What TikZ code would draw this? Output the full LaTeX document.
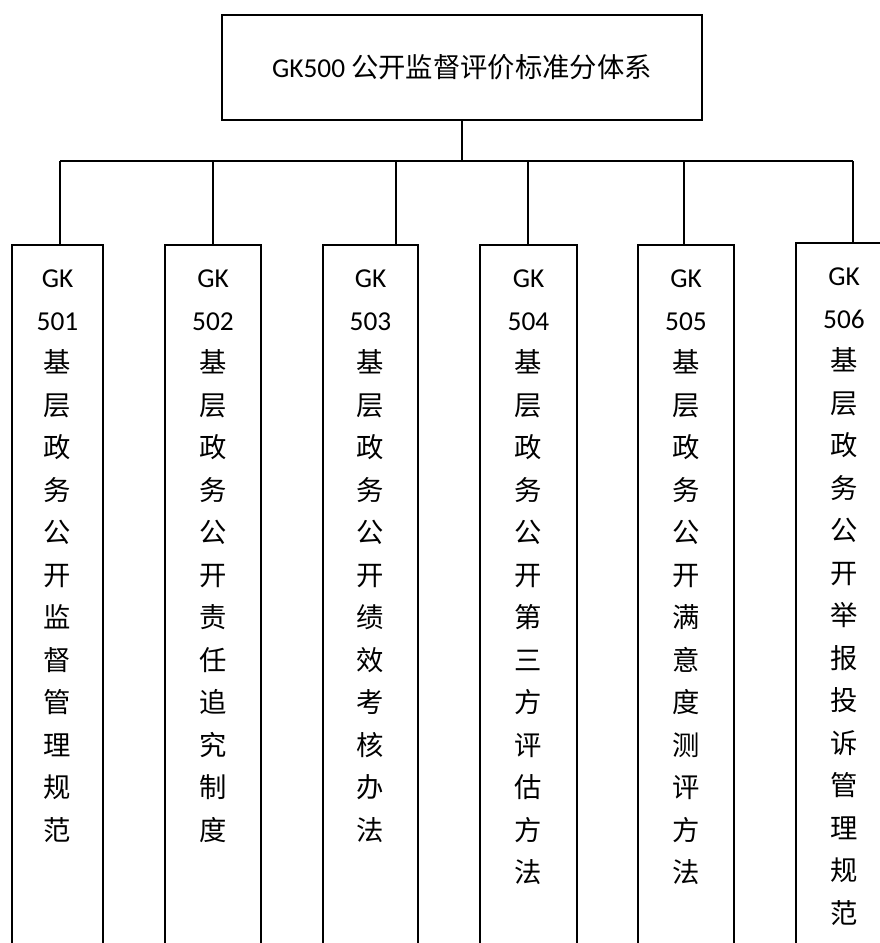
\documentclass[tikz,border=0pt]{standalone}
\usepackage{fontspec}
\setmainfont{Carlito}
\newfontfamily\cjk{Noto Sans CJK SC}
\newcommand{\colstack}[3]{\parbox[c][537pt][t]{#1}{\centering\baselineskip=31.875pt\rule{0pt}{32pt}#2\\\cjk #3\par}}

\begin{document}
\begin{tikzpicture}[x=0.75pt, y=-0.75pt, line width=1.4pt,
    topbox/.style={draw, minimum width=360pt, minimum height=78.75pt, inner sep=0pt},
    colbox/.style={draw, anchor=north, inner sep=0pt}]
    \useasboundingbox (0,0) rectangle (880,943);
    \clip (0,0) rectangle (880,943);
    \fontsize{20.5pt}{24pt}\selectfont

    \node[topbox] (root) at (462,67.5) {GK500 {\cjk 公开监督评价标准分体系}};

    \pgfmathsetmacro{\bus}{161}
    \coordinate (j1) at (60,\bus);
    \coordinate (j2) at (213,\bus);
    \coordinate (j3) at (396,\bus);
    \coordinate (j4) at (528,\bus);
    \coordinate (j5) at (684,\bus);
    \coordinate (j6) at (853,\bus);

    \node[colbox] (c1) at (57.5,244) {\colstack{68.25pt}{GK\\501}{基\\层\\政\\务\\公\\开\\监\\督\\管\\理\\规\\范}};
    \node[colbox] (c2) at (213,244) {\colstack{72pt}{GK\\502}{基\\层\\政\\务\\公\\开\\责\\任\\追\\究\\制\\度}};
    \node[colbox] (c3) at (370.5,244) {\colstack{71.25pt}{GK\\503}{基\\层\\政\\务\\公\\开\\绩\\效\\考\\核\\办\\法}};
    \node[colbox] (c4) at (528.5,244) {\colstack{72.75pt}{GK\\504}{基\\层\\政\\务\\公\\开\\第\\三\\方\\评\\估\\方\\法}};
    \node[colbox] (c5) at (686,244) {\colstack{72pt}{GK\\505}{基\\层\\政\\务\\公\\开\\满\\意\\度\\测\\评\\方\\法}};
    \node[colbox] (c6) at (844,242) {\colstack{72pt}{GK\\506}{基\\层\\政\\务\\公\\开\\举\\报\\投\\诉\\管\\理\\规\\范}};

    \draw (root.south) -- (root.south |- j1);
    \draw (j1) -- (j6);
    \foreach \i in {1,...,6}
      \draw (j\i) -- (j\i |- c\i.north);
  \end{tikzpicture}
\end{document}
